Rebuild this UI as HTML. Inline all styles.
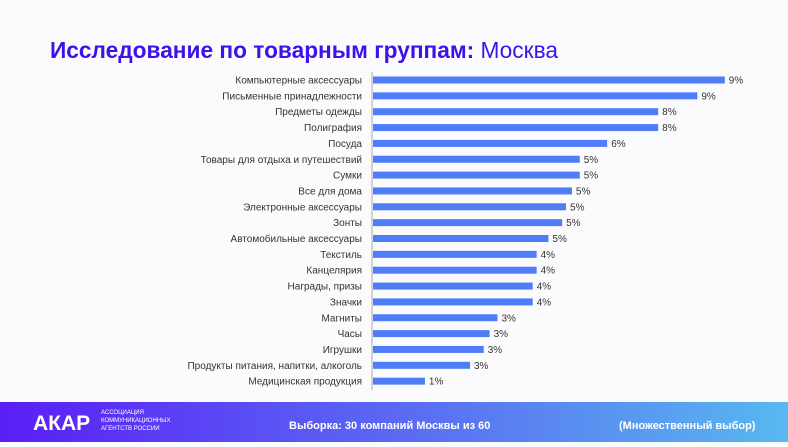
<!DOCTYPE html>
<html><head><meta charset="utf-8"><style>
body{margin:0;width:788px;height:442px;overflow:hidden;background:#fbfbfe;font-family:"Liberation Sans",sans-serif}
</style></head><body>
<svg id="c" width="788" height="442" xmlns="http://www.w3.org/2000/svg">
<defs><linearGradient id="g" x1="0" x2="1"><stop offset="0" stop-color="#5a1ef5"/><stop offset="0.6" stop-color="#5a78f2"/><stop offset="1" stop-color="#58b8f0"/></linearGradient></defs>
<rect width="788" height="442" fill="#fbfbfe"/>
<text x="50" y="58" font-size="23" fill="#3d12ea" textLength="508" lengthAdjust="spacingAndGlyphs"><tspan font-weight="bold">Исследование по товарным группам:</tspan> Москва</text>
<line x1="372" y1="72" x2="372" y2="390" stroke="#aaa" stroke-width="1"/>
<g id="bars"></g>
<rect x="0" y="402" width="788" height="40" fill="url(#g)"/>
<text x="33" y="430" font-size="21" font-weight="bold" fill="#fff">АКАР</text>
<text x="101" y="414" font-size="6" fill="#fff">АССОЦИАЦИЯ</text>
<text x="101" y="422" font-size="6" fill="#fff">КОММУНИКАЦИОННЫХ</text>
<text x="101" y="430" font-size="6" fill="#fff">АГЕНТСТВ РОССИИ</text>
<text x="289" y="429" font-size="11" font-weight="bold" fill="#fff">Выборка: 30 компаний  Москвы из 60</text>
<text x="619" y="429" font-size="11" font-weight="bold" fill="#fff">(Множественный выбор)</text>
</svg>
<script>
const categories=["Компьютерные аксессуары","Письменные принадлежности","Предметы одежды","Полиграфия","Посуда","Товары для отдыха и путешествий","Сумки","Все для дома","Электронные аксессуары","Зонты","Автомобильные аксессуары","Текстиль","Канцелярия","Награды, призы","Значки","Магниты","Часы","Игрушки","Продукты питания, напитки, алкоголь","Медицинская продукция"];
const values=[9.0,8.3,7.3,7.3,6.0,5.3,5.3,5.1,4.95,4.85,4.5,4.2,4.2,4.1,4.1,3.2,3.0,2.85,2.5,1.35];
const valueLabels=["9%","9%","8%","8%","6%","5%","5%","5%","5%","5%","5%","4%","4%","4%","4%","3%","3%","3%","3%","1%"];
const NS="http://www.w3.org/2000/svg";
const g=document.getElementById("bars");
const x=v=>372+v*39.2;
const y=i=>80+i*15.85;
categories.forEach((c,i)=>{
 const r=document.createElementNS(NS,"rect");
 r.setAttribute("x",373);r.setAttribute("y",y(i)-3.5);r.setAttribute("width",x(values[i])-373);r.setAttribute("height",7);r.setAttribute("fill","#4f7cf7");
 
 
 g.appendChild(r);
 const t=document.createElementNS(NS,"text");
 t.setAttribute("x",362);t.setAttribute("y",y(i)+3.5);t.setAttribute("text-anchor","end");t.setAttribute("font-size","10");t.setAttribute("fill","#333");
 t.textContent=c;
 
 
 g.appendChild(t);
 const l=document.createElementNS(NS,"text");
 l.setAttribute("x",x(values[i])+4);l.setAttribute("y",y(i)+3.5);l.setAttribute("font-size","10");l.setAttribute("fill","#333");
 l.textContent=valueLabels[i];
 
 
 g.appendChild(l);
});
</script>
</body></html>
